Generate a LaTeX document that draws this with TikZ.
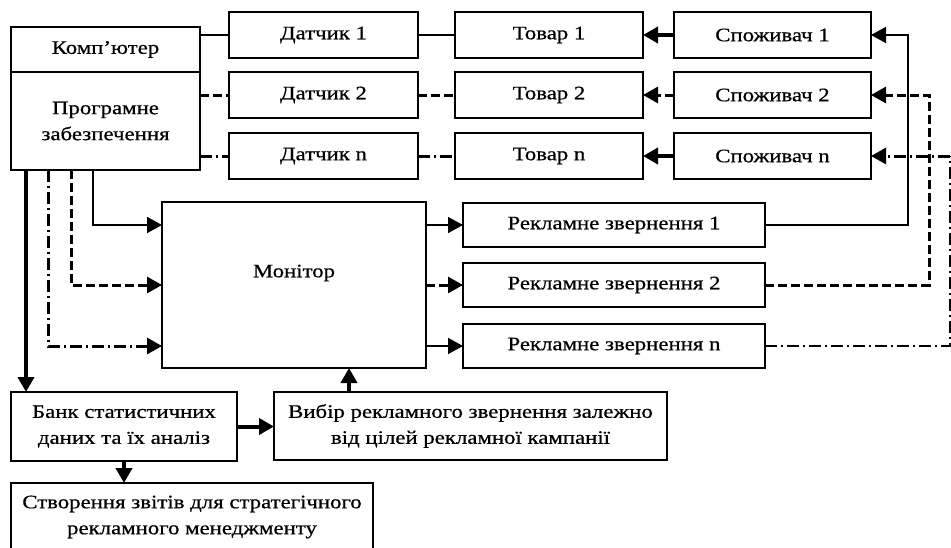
\documentclass[tikz,border=0pt]{standalone}
\usepackage{fontspec}
\setmainfont[FakeStretch=1.2,FakeBold=0.6]{Liberation Serif}
\usetikzlibrary{arrows.meta}
\begin{document}
\begin{tikzpicture}[x=1pt,y=-1pt,
 box/.style={draw,line width=1.4pt,inner sep=0pt,outer sep=0pt,anchor=north west,align=center,font=\fontsize{19}{26}\selectfont},
 txt/.style={inner sep=0pt,font=\fontsize{19}{26}\selectfont},
 arrowtip/.style={-{Triangle[length=15pt,width=16pt]}},
 lnsolid/.style={line width=1.7pt},
 lnthick/.style={line width=4pt},
 lndash/.style={line width=3pt,dash pattern=on 9pt off 4pt},
 lndot/.style={line width=3pt,dash pattern=on 12pt off 4pt on 2pt off 4pt},
 lnedge/.style={line width=1.2pt,dash pattern=on 12pt off 4pt on 2pt off 4pt},
]
\useasboundingbox (0,0) rectangle (951,547);
\clip (0,0) rectangle (951,547);
\fill[white] (0,0) rectangle (951,547);

% top-left computer
\node[box,minimum width=189pt,minimum height=45pt] (komp) at (11,27) {Комп'ютер};
\node[box,minimum width=189pt,minimum height=98pt] (prog) at (11,72) {Програмне\\забезпечення};

% sensors
\node[box,minimum width=189pt,minimum height=46pt] (d1) at (229,12) {Датчик 1};
\node[box,minimum width=189pt,minimum height=46pt] (d2) at (229,72) {Датчик 2};
\node[box,minimum width=189pt,minimum height=46pt] (dn) at (229,133) {Датчик n};

% goods
\node[box,minimum width=188pt,minimum height=46pt] (t1) at (455,12) {Товар 1};
\node[box,minimum width=188pt,minimum height=46pt] (t2) at (455,72) {Товар 2};
\node[box,minimum width=188pt,minimum height=46pt] (tn) at (455,133) {Товар n};

% consumers
\node[box,minimum width=197pt,minimum height=46pt] (s1) at (674,12) {Споживач 1};
\node[box,minimum width=197pt,minimum height=46pt] (s2) at (674,72) {Споживач 2};
\node[box,minimum width=197pt,minimum height=46pt] (sn) at (674,133) {Споживач n};

% monitor
\node[box,minimum width=264pt,minimum height=166pt] (mon) at (162,202) {};
\node[txt] (montxt) at (294,273) {Монітор};

% ads
\node[box,minimum width=302pt,minimum height=44pt] (r1) at (463,203) {Рекламне звернення 1};
\node[box,minimum width=302pt,minimum height=44pt] (r2) at (463,263) {Рекламне звернення 2};
\node[box,minimum width=302pt,minimum height=44pt] (rn) at (463,324) {Рекламне звернення n};

% bottom
\node[box,minimum width=226pt,minimum height=69pt] (bank) at (11,392) {Банк статистичних\\даних та їх аналіз};
\node[box,minimum width=393pt,minimum height=68pt] (vyb) at (274,392) {Вибір рекламного звернення залежно\\від цілей рекламної кампанії};
\node[box,minimum width=362pt,minimum height=68pt] (zvit) at (11,483) {Створення звітів для стратегічного\\рекламного менеджменту};

% helper columns
\coordinate (cv1) at (908,0);
\coordinate (cv2) at (929,0);
\coordinate (cv3) at (950,0);
\coordinate (cl1) at (93,0);
\coordinate (cl2) at (71,0);
\coordinate (cl3) at (48,0);
\coordinate (cl4) at (26,0);
\coordinate (cm) at (349,0);

% row 1
\draw[lnsolid] (komp.east |- d1.west) -- (d1.west);
\draw[lnsolid] (d1.east) -- (t1.west);
\draw[lnthick,arrowtip] (s1.west) -- (t1.east);
\draw[lnsolid,arrowtip] (r1.east) -| (cv1 |- s1.east) -- (s1.east);

% row 2
\draw[lndash] (prog.east |- d2.west) -- (d2.west);
\draw[lndash] (d2.east) -- (t2.west);
\draw[lndash,arrowtip] (s2.west) -- (t2.east);
\draw[lndash,arrowtip] (r2.east) -| (cv2 |- s2.east) -- (s2.east);

% row n
\draw[lndot] (prog.east |- dn.west) -- (dn.west);
\draw[lndot] (dn.east) -- (tn.west);
\draw[lnthick,arrowtip] (sn.west) -- (tn.east);
\draw[lnedge] (rn.east) -| (cv3 |- sn.east);
\draw[lndot,arrowtip] (cv3 |- sn.east) -- (sn.east);

% left feeds into monitor
\draw[lnsolid,arrowtip] (cl1 |- prog.south) |- (mon.west |- r1.west);
\draw[lndash,arrowtip] (cl2 |- prog.south) |- (mon.west |- r2.west);
\draw[lndot,arrowtip] (cl3 |- prog.south) |- (mon.west |- rn.west);
\draw[lnthick,arrowtip] (cl4 |- prog.south) -- (cl4 |- bank.north);

% monitor to ads
\draw[lnsolid,arrowtip] (mon.east |- r1.west) -- (r1.west);
\draw[lndash,arrowtip] (mon.east |- r2.west) -- (r2.west);
\draw[lnsolid,arrowtip] (mon.east |- rn.west) -- (rn.west);

% bottom links
\draw[lnthick,arrowtip] (bank.east) -- (bank.east -| vyb.west);
\draw[lnthick,arrowtip] (bank.south) -- (bank.south |- zvit.north);
\draw[lnthick,arrowtip] (cm |- vyb.north) -- (cm |- mon.south);
\end{tikzpicture}
\end{document}
